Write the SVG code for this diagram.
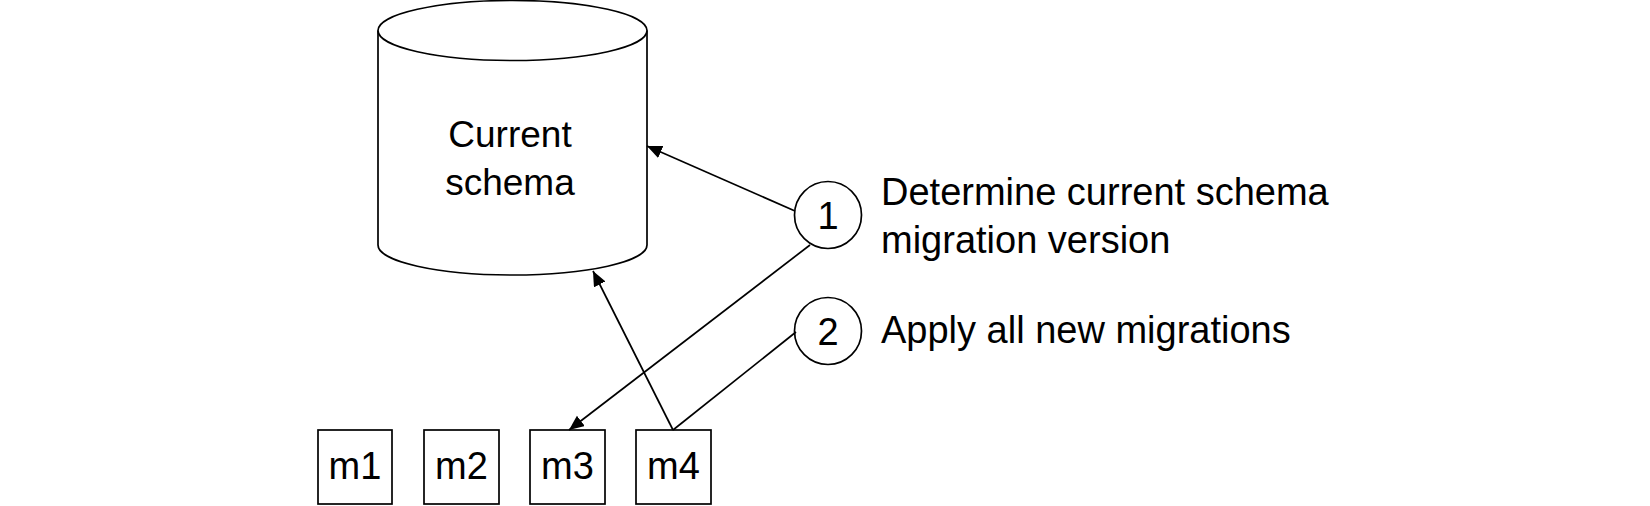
<svg xmlns="http://www.w3.org/2000/svg" width="1650" height="506" viewBox="0 0 1650 506">
<style>
.shape{fill:#fff;stroke:#000;stroke-width:1.7}
.edge{fill:none;stroke:#000;stroke-width:1.7}
.t{font-family:"Liberation Sans",Arial,sans-serif;font-size:38px;fill:#000}
.c{text-anchor:middle}
</style>
<defs>
<marker id="arr" markerUnits="userSpaceOnUse" markerWidth="16" markerHeight="14" refX="15" refY="6.5" orient="auto">
<path d="M0,0 L15,6.5 L0,13 z" fill="#000"/>
</marker>
</defs>
<rect width="1650" height="506" fill="#fff"/>
<g id="db">
<path class="shape" d="M378,30.5 L378,245 A134.5,30 0 0 0 647,245 L647,30.5"/>
<ellipse class="shape" cx="512.5" cy="30.5" rx="134.5" ry="30"/>
<text class="t c" x="510" y="147" style="font-size:37px">Current</text>
<text class="t c" x="510" y="195" style="font-size:37px">schema</text>
</g>
<g id="step1">
<circle class="shape" cx="828" cy="215" r="33.5"/>
<text class="t c" x="828" y="229">1</text>
<text class="t" x="881" y="205">Determine current schema</text>
<text class="t" x="881" y="253">migration version</text>
</g>
<g id="step2">
<circle class="shape" cx="828" cy="331" r="33.5"/>
<text class="t c" x="828" y="345">2</text>
<text class="t" x="881" y="343">Apply all new migrations</text>
</g>
<g id="m1"><rect class="shape" x="318" y="430" width="74" height="74"/><text class="t c" x="355" y="479">m1</text></g>
<g id="m2"><rect class="shape" x="424" y="430" width="75" height="74"/><text class="t c" x="461.5" y="479">m2</text></g>
<g id="m3"><rect class="shape" x="530" y="430" width="75" height="74"/><text class="t c" x="567.5" y="479">m3</text></g>
<g id="m4"><rect class="shape" x="636" y="430" width="75" height="74"/><text class="t c" x="673.5" y="479">m4</text></g>
<g id="connectors">
<line class="edge" x1="795" y1="211" x2="647" y2="146" marker-end="url(#arr)"/>
<line class="edge" x1="810" y1="245" x2="569" y2="430" marker-end="url(#arr)"/>
<line class="edge" x1="673" y1="430" x2="593" y2="271" marker-end="url(#arr)"/>
<line class="edge" x1="673" y1="430" x2="796" y2="332"/>
</g>
</svg>
